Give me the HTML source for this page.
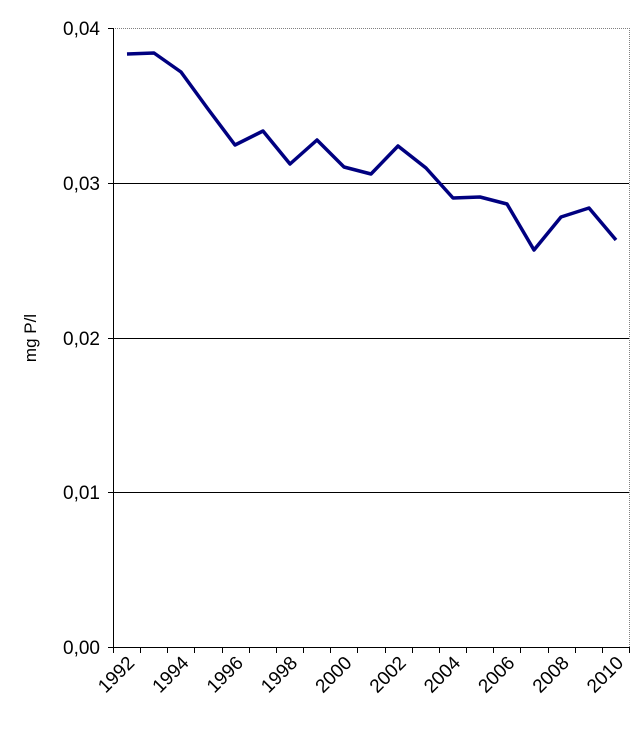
<!DOCTYPE html>
<html><head><style>body{margin:0;background:#fff}</style></head><body>
<svg width="639" height="735" xmlns="http://www.w3.org/2000/svg" font-family="Liberation Sans, Arial, sans-serif">
<rect width="639" height="735" fill="#fff"/>
<path d="M113,28.5H629.5V647" fill="none" stroke="#808080" stroke-dasharray="1,1"/>
<g stroke="#000" stroke-width="1">
<line x1="113" y1="183.5" x2="629" y2="183.5"/>
<line x1="113" y1="338.5" x2="629" y2="338.5"/>
<line x1="113" y1="492.5" x2="629" y2="492.5"/>
<line x1="113.5" y1="28" x2="113.5" y2="647"/>
<line x1="108" y1="647.5" x2="629" y2="647.5"/>
<line x1="108" y1="28.5" x2="113" y2="28.5"/>
<line x1="108" y1="183.5" x2="113" y2="183.5"/>
<line x1="108" y1="338.5" x2="113" y2="338.5"/>
<line x1="108" y1="492.5" x2="113" y2="492.5"/>
</g>
<g stroke="#000" id="ticks"></g>
<g font-size="19" text-anchor="end" fill="#000">
<text x="100" y="35">0,04</text>
<text x="100" y="190">0,03</text>
<text x="100" y="345">0,02</text>
<text x="100" y="499">0,01</text>
<text x="100" y="654">0,00</text>
</g>
<text transform="translate(36,338) rotate(-90)" font-size="17" text-anchor="middle">mg P/l</text>
<g id="xl" font-size="19" text-anchor="end"></g>
<polyline fill="none" stroke="#000080" stroke-width="3.5" stroke-linejoin="round" points="127,54 154,53 181,72 208,109 235,145 263,131 290,164 317,140 344,167 371,174 398,146 426,168 453,198 480,197 507,204 534,250 561,217 589,208 616,240"/>
<script>
var t=document.getElementById('ticks'),l=document.getElementById('xl'),ns='http://www.w3.org/2000/svg';
var w=516/19;
for(var i=0;i<=19;i++){var x=Math.round(113+w*i)+0.5;var e=document.createElementNS(ns,'line');e.setAttribute('x1',x);e.setAttribute('x2',x);e.setAttribute('y1',647);e.setAttribute('y2',653);t.appendChild(e);}
for(var i=0;i<19;i+=2){var x=113+w*i+w/2+9;var e=document.createElementNS(ns,'text');e.setAttribute('transform','translate('+x+',664) rotate(-45)');e.textContent=1992+i;l.appendChild(e);}
</script>
</svg>
</body></html>
